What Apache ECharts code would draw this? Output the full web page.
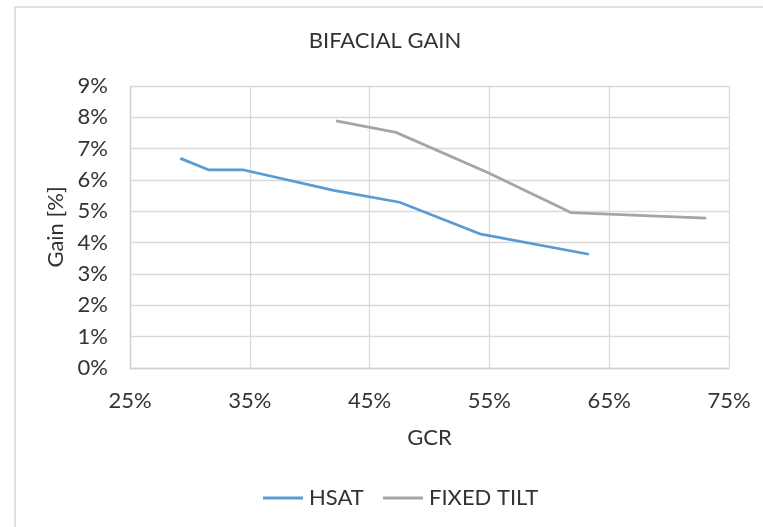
<!DOCTYPE html>
<html>
<head>
<meta charset="utf-8">
<script src="https://cdn.jsdelivr.net/npm/echarts@6/dist/echarts.min.js"></script>
<style>
  html, body { margin: 0; padding: 0; background: #fff; }
  #chart { width: 763px; height: 527px; }
</style>
</head>
<body>
<div id="chart"></div>
<script>
// Ground coverage ratio (%) and bifacial gain (%) per tracking type
const hsatGcr = [29.2, 31.6, 34.5, 42.0, 47.5, 54.3, 63.3];
const hsatGain = [6.69, 6.32, 6.32, 5.67, 5.29, 4.27, 3.63];
const fixedGcr = [42.2, 47.2, 54.9, 61.8, 73.1];
const fixedGain = [7.89, 7.52, 6.23, 4.96, 4.78];
const seriesNames = ['HSAT', 'FIXED TILT'];
const xTicks = [25, 35, 45, 55, 65, 75];
const yTicks = [0, 1, 2, 3, 4, 5, 6, 7, 8, 9];

const FONT = 'Lato, "Open Sans", sans-serif';
const TEXT = '#333333';
const GRID = '#d9d9d9';
const COLORS = ['#5b9bd5', '#a5a5a5'];

const chart = echarts.init(document.getElementById('chart'));
const pairs = (xs, ys) => xs.map((x, i) => [x, ys[i]]);

// one legend box per series so each key sits at its own spot
const legendAt = (name, left) => ({
  data: [name], left: left, top: 487, padding: 0,
  itemWidth: 40, itemHeight: 3, icon: 'rect', selectedMode: false,
  textStyle: { fontFamily: FONT, fontSize: 22, color: TEXT, padding: [0, 0, 0, 1] }
});

chart.setOption({
  animation: false,
  backgroundColor: '#fff',
  graphic: [{
    type: 'rect',
    shape: { x: 15, y: 7, width: 800, height: 600 },
    style: { fill: 'none', stroke: GRID, lineWidth: 1.6 },
    silent: true
  }],
  title: {
    text: 'BIFACIAL GAIN',
    left: 385, top: 30, padding: 0, textAlign: 'center',
    textStyle: { fontFamily: FONT, fontSize: 22, fontWeight: 'normal', color: TEXT }
  },
  legend: [legendAt(seriesNames[0], 263), legendAt(seriesNames[1], 383)],
  grid: { left: 130, right: 34, top: 86, bottom: 159 },
  xAxis: {
    type: 'value', min: xTicks[0], max: xTicks[xTicks.length - 1], interval: 10,
    name: 'GCR', nameLocation: 'middle', nameGap: 59,
    nameTextStyle: { fontFamily: FONT, fontSize: 22, color: TEXT },
    axisLine: { lineStyle: { color: '#cfcfcf', width: 1.3 } },
    axisTick: { show: false },
    splitLine: { show: true, lineStyle: { color: GRID, width: 1.3 } },
    axisLabel: { formatter: v => v + '%', margin: 22, fontFamily: FONT, fontSize: 22, color: TEXT }
  },
  yAxis: {
    type: 'value', min: yTicks[0], max: yTicks[yTicks.length - 1], interval: 1,
    name: 'Gain [%]', nameLocation: 'middle', nameGap: 61, nameRotate: 90,
    nameTextStyle: { fontFamily: FONT, fontSize: 22, color: TEXT },
    axisLine: { show: true, lineStyle: { color: '#cfcfcf', width: 1.3 } },
    axisTick: { show: false },
    splitLine: { show: true, lineStyle: { color: GRID, width: 1.3 } },
    axisLabel: { formatter: v => v + '%', margin: 22, fontFamily: FONT, fontSize: 22, color: TEXT }
  },
  series: [
    {
      name: seriesNames[0], type: 'line', data: pairs(hsatGcr, hsatGain),
      showSymbol: false, symbol: 'none',
      lineStyle: { color: COLORS[0], width: 2.75 }, itemStyle: { color: COLORS[0] }
    },
    {
      name: seriesNames[1], type: 'line', data: pairs(fixedGcr, fixedGain),
      showSymbol: false, symbol: 'none',
      lineStyle: { color: COLORS[1], width: 2.75 }, itemStyle: { color: COLORS[1] }
    }
  ]
});
</script>
</body>
</html>
